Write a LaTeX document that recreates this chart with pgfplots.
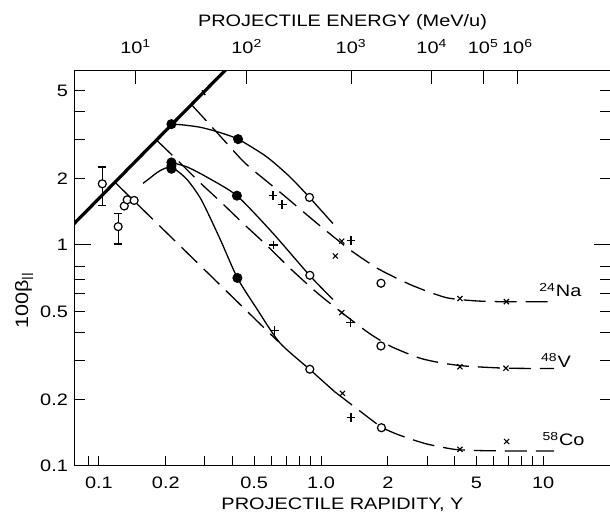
\documentclass[border=0pt]{standalone}
\usepackage{fontspec}
\setmainfont{Liberation Sans}[FakeStretch=1.2]
\usepackage{pgfplots}
\pgfplotsset{compat=1.18}
\newcommand{\fs}{\fontsize{8.3}{10}\selectfont}
\begin{document}
\begin{tikzpicture}
\begin{axis}[
  scale only axis, width=267.5pt, height=197.5pt,
  xmode=log, ymode=log,
  xmin=0.078, xmax=20, ymin=0.1, ymax=6.12,
  axis line style={line width=0.5pt},
  every tick/.style={black, line width=0.5pt},
  tick align=inside,
  major tick length=5pt, minor tick length=5pt,
  xtick={0.1,0.2,0.5,1,2,5,10},
  xticklabels={0.1,0.2,0.5,1.0,2,5,10},
  minor xtick={0.09,0.3,0.4,0.6,0.7,0.8,0.9,3,4,6,7,8,9},
  xtick pos=bottom,
  ytick={0.1,0.2,0.5,2,5},
  yticklabels={0.1,0.2,0.5,2,5},
  minor ytick={0.3,0.4,0.6,0.7,0.8,3,4},
  extra y ticks={1}, extra y tick labels={1},
  extra y tick style={major tick length=8pt},
  ytick pos=both, yticklabel pos=left,
  tick label style={font=\fs},
  xticklabel style={anchor=base, yshift=-11.5pt},
  label style={font=\fs},
  xlabel={PROJECTILE RAPIDITY, Y},
  xlabel style={at={(axis description cs:0.5,0)}, anchor=base, yshift=-22pt},
  ylabel={100β\textsubscript{||}},
  ylabel style={at={(axis description cs:-0.0953,0.42)}, anchor=center, font=\fontsize{9}{10}\selectfont},
]
% heavy line
\addplot[black, line width=1.6pt] coordinates {(0.07,1.128) (0.40,6.67)};
\addplot[black, line width=0.65pt] coordinates {(0.291,5.00) (0.301,4.76)};
% dashed curves
\addplot[black, line width=0.65pt, dash pattern=on 11pt off 4.5pt, smooth, tension=0.4] coordinates {
 (0.261,4.31) (0.30,3.70) (0.38,2.85) (0.46,2.32) (0.65,1.74) (0.84,1.40) (1.02,1.19) (1.37,0.94) (1.83,0.775) (2.58,0.655) (3.65,0.578) (5,0.558) (7,0.553) (11.2,0.553)};
\addplot[black, line width=0.65pt, dash pattern=on 11pt off 4.5pt, smooth, tension=0.4] coordinates {
 (0.1816,2.98) (0.227,2.40) (0.284,1.92) (0.35,1.58) (0.45,1.24) (0.567,1.0) (0.734,0.775) (0.966,0.604) (1.25,0.491) (1.65,0.398) (2.07,0.347) (2.77,0.308) (3.52,0.292) (4.5,0.283) (6.8,0.277) (11.2,0.276)};
\addplot[black, line width=0.65pt, dash pattern=on 11pt off 4.5pt] coordinates {
 (0.118,1.92) (0.64,0.366)};
\addplot[black, line width=0.65pt, dash pattern=on 11pt off 4.5pt, smooth, tension=0.4] coordinates {
 (1.15,0.217) (1.51,0.176) (1.87,0.150) (2.25,0.138) (2.97,0.126) (3.97,0.119) (5,0.1175) (7,0.117) (11.2,0.117)};
% solid curves
\addplot[black, line width=0.65pt, smooth, tension=0.4] coordinates {
 (0.212,3.52) (0.239,3.49) (0.284,3.41) (0.338,3.26) (0.423,3.01) (0.567,2.51) (0.721,2.04) (0.887,1.64) (1.13,1.25)};
\addplot[black, line width=0.65pt, smooth, tension=0.4] coordinates {
 (0.212,2.36) (0.25,2.25) (0.305,2.03) (0.418,1.67) (0.607,1.13) (0.887,0.729) (1.13,0.567)};
\addplot[black, line width=0.65pt, smooth, tension=0.4] coordinates {
 (0.158,1.90) (0.169,2.0) (0.182,2.12) (0.194,2.2) (0.205,2.24) (0.22,2.2) (0.25,1.97) (0.289,1.60) (0.35,1.07) (0.42,0.709) (0.51,0.52) (0.65,0.362) (0.887,0.274) (1.15,0.217)};
% markers: filled circles
\addplot[only marks, mark=*, mark size=2.3pt, black] coordinates {
 (0.212,3.52) (0.423,3.01) (0.212,2.36) (0.212,2.28) (0.212,2.21) (0.418,1.67) (0.42,0.709)};
% open circles
\addplot[only marks, mark=*, mark size=2pt, mark options={fill=white, draw=black, line width=0.6pt}] coordinates {
 (0.887,1.64) (0.89,0.729) (0.89,0.274) (1.862,0.671) (1.86,0.349) (1.87,0.149) (0.130,1.50) (0.134,1.60) (0.144,1.59)};
\addplot[only marks, mark=*, mark size=2pt, mark options={fill=white, draw=black, line width=0.6pt},
  error bars/.cd, y dir=both, y explicit,
  error bar style={line width=0.6pt, black},
  error mark options={rotate=90, mark size=1.9pt, line width=0.6pt, black}] coordinates {
 (0.1035,1.89) += (0,0.36) -= (0,0.38)
 (0.122,1.21) += (0,0.18) -= (0,0.20)};
% plus
\addplot[only marks, mark=+, mark size=2.2pt, mark options={line width=0.7pt}, black] coordinates {
 (0.607,1.67) (0.668,1.52) (0.611,1.0) (1.365,1.05) (1.36,0.445) (0.618,0.409) (1.365,0.166)};
% crosses
\addplot[only marks, mark=x, mark size=1.8pt, mark options={line width=0.55pt}, black] coordinates {
 (1.24,1.04) (1.16,0.891) (4.22,0.572) (6.83,0.554) (1.24,0.494) (4.22,0.281) (6.8,0.277) (1.248,0.213) (4.22,0.119) (6.85,0.129)};
\node[anchor=base west, font=\fs, inner sep=0pt] at (axis cs:9.58,0.583) {\textsuperscript{24}Na};
\node[anchor=base west, font=\fs, inner sep=0pt] at (axis cs:9.75,0.2796) {\textsuperscript{48}V};
\node[anchor=base west, font=\fs, inner sep=0pt] at (axis cs:9.9,0.1232) {\textsuperscript{58}Co};
\coordinate (BL) at (rel axis cs:0,0);
\coordinate (TR) at (rel axis cs:1,1);
\end{axis}
\begin{axis}[
  scale only axis, width=267.5pt, height=197.5pt,
  xmode=log, ymode=log, xmin=0.078, xmax=20, ymin=0.1, ymax=6.12,
  axis x line*=top, axis y line=none,
  axis line style={line width=0.5pt},
  every tick/.style={black, line width=0.5pt},
  tick align=inside, major tick length=6.5pt,
  xtick={0.1464,0.4634,1.3668,3.1556,5.378,7.673},
  xticklabels={10\textsuperscript{1},10\textsuperscript{2},10\textsuperscript{3},10\textsuperscript{4},10\textsuperscript{5},10\textsuperscript{6}},
  minor xtick={},
  tick label style={font=\fs},
  xticklabel style={anchor=base, yshift=8.85pt},
  label style={font=\fs},
  xlabel={PROJECTILE ENERGY (MeV/u)},
  xlabel style={at={(axis description cs:0.5,1)}, anchor=base, yshift=22.2pt},
]
\end{axis}
\pgfresetboundingbox
\path[use as bounding box] ([xshift=-37.5pt,yshift=-23pt]BL) rectangle ([yshift=35.5pt]TR);
\end{tikzpicture}
\end{document}
